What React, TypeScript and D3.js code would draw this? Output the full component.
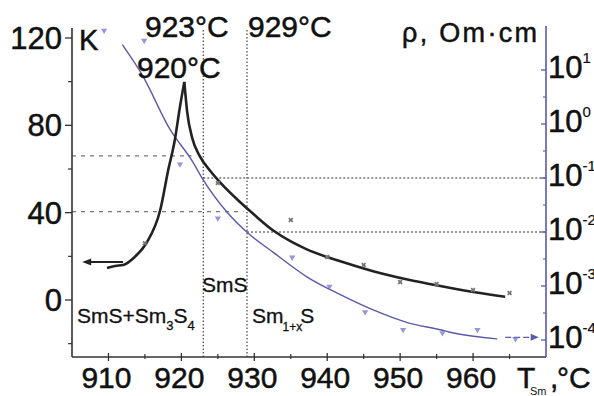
import React from "react";
import * as d3 from "d3";

// ---- data ----
const kLeftT = [909.8, 910.9, 912.0, 913.6, 915.2, 917.1, 918.2, 919.1, 919.8, 920.4];
const kLeftV = [14.7, 15.6, 16.0, 19.7, 26.1, 41.2, 59.6, 73.3, 88.4, 99.9];
const kRightT = [920.4, 920.8, 921.5, 922.5, 924.0, 925.5, 928.0, 930.0, 932.6, 935.0, 937.2, 941.8, 946.3, 951.0, 955.5, 959.6, 964.4];
const kRightV = [99.9, 86, 74, 66, 59, 53.2, 45, 39, 31.8, 26.8, 23.2, 17.7, 13.2, 9.4, 6.4, 3.9, 1.5];
const kMarkT = [915, 925, 935, 940, 945, 950, 955, 960, 965];
const kMarkV = [26, 53.6, 36.6, 19.7, 16.0, 8.2, 7.3, 4.6, 3.2];

const rhoT = [911.9, 914.7, 918.4, 921.6, 922.8, 926.3, 929.4, 932.6, 937.2, 941.8, 946.3, 951.0, 955.5, 957.3, 963.3];
const rhoV = [29.5, 7.8, 0.81, 0.195, 0.102, 0.023, 0.0089, 0.0042, 0.00148, 0.00069, 0.00036, 0.00021, 0.000155, 0.000135, 0.000105];
const rhoMarkT = [909.4, 914.9, 919.8, 925, 935.2, 940.3, 945.2, 950.4, 955.8, 960.6, 965.8];
const rhoMarkV = [54, 35, 0.18, 0.018, 0.0034, 0.00098, 0.00033, 0.000155, 0.000135, 0.000155, 0.000105];

const xTicks = [910, 920, 930, 940, 950, 960];
const xMinor = [915, 925, 935, 945, 955, 965];
const kTicks = [0, 40, 80, 120];
const kMinor = [-20, 20, 60, 100];
const rhoExp = [1, 0, -1, -2, -3, -4];

const phaseT = [923, 929];
const kGuides = [66, 40.5];
const kGuideEndT = [921.4, 928.5];
const rhoGuides = [0.1, 0.01];
const kArrowT = [912, 906.4];
const kArrowV = 17.4;
const rhoArrowT = [964.4, 969];
const rhoArrowV = 0.000112;

// ---- layout ----
const W = 594, H = 396;
const L = 72, R = 546, T0 = 28, B = 357;
const FONT = "'Liberation Sans', Arial, sans-serif";
const BLUE = "#5a5aaa";
const BLUE_M = "#7373cc";
const INK = "#111";

export default function App() {
  const x = d3.scaleLinear().domain([905, 970]).range([L, R]);
  const yK = d3.scaleLinear().domain([0, 120]).range([300, 38]);
  const yR = d3.scaleLog().domain([1e-4, 10]).range([340, 70]);

  const lineK = d3.line<[number, number]>().x(d => x(d[0])).y(d => yK(d[1])).curve(d3.curveMonotoneX);
  const lineR = d3.line<[number, number]>().x(d => x(d[0])).y(d => yR(d[1])).curve(d3.curveMonotoneX);

  const leftPts = kLeftT.map((t, i) => [t, kLeftV[i]] as [number, number]);
  const rightPts = kRightT.map((t, i) => [t, kRightV[i]] as [number, number]);
  const rhoPts = rhoT.map((t, i) => [t, rhoV[i]] as [number, number]);

  const tri = d3.symbol().type(d3.symbolTriangle).size(17)() as string;
  const cross = d3.symbol().type(d3.symbolCross).size(16)() as string;

  const ka1 = x(kArrowT[0]), ka2 = x(kArrowT[1]), kay = yK(kArrowV);
  const ra1 = x(rhoArrowT[0]), ra2 = x(rhoArrowT[1]), ray = yR(rhoArrowV);

  const big = { fill: INK, stroke: INK, strokeWidth: 0.5 };

  return (
    <svg width={W} height={H} style={{ position: "absolute", left: 0, top: 0, background: "#fff" }} fontFamily={FONT}>
      <rect x={0} y={0} width={W} height={H} fill="#fff" />

      {/* guide lines */}
      {kGuides.map((v, i) => (
        <line key={"kg" + i} x1={L} x2={x(kGuideEndT[i])} y1={yK(v)} y2={yK(v)} stroke="#777" strokeWidth={1.2} strokeDasharray="4,5" />
      ))}
      {rhoGuides.map((v, i) => (
        <line key={"rg" + i} x1={x(phaseT[i])} x2={R} y1={yR(v)} y2={yR(v)} stroke="#333" strokeWidth={1.1} strokeDasharray="2,2" />
      ))}
      {phaseT.map((t, i) => (
        <line key={"pt" + i} x1={x(t)} x2={x(t)} y1={T0 + 2} y2={B} stroke="#333" strokeWidth={1.1} strokeDasharray="1.5,2" />
      ))}

      {/* resistivity curve */}
      <path d={lineR(rhoPts) as string} fill="none" stroke={BLUE} strokeWidth={1.4} />
      <line x1={ra1} x2={ra2 - 6} y1={ray} y2={ray} stroke={BLUE} strokeWidth={1.4} strokeDasharray="6,3" />
      <path d={`M${ra2},${ray} L${ra2 - 8},${ray - 3.5} L${ra2 - 8},${ray + 3.5} Z`} fill={BLUE} />
      {rhoMarkT.map((t, i) => (
        <path key={"rm" + i} d={tri} transform={`translate(${x(t)},${yR(rhoMarkV[i])}) rotate(180)`} fill={BLUE_M} opacity={0.75} />
      ))}

      {/* K curve */}
      <path d={lineK(leftPts) as string} fill="none" stroke="#222" strokeWidth={2.6} />
      <path d={lineK(rightPts) as string} fill="none" stroke="#222" strokeWidth={2.6} />
      <line x1={ka1} x2={ka2 + 6} y1={kay} y2={kay} stroke="#222" strokeWidth={2.2} />
      <path d={`M${ka2},${kay} L${ka2 + 9},${kay - 3.5} L${ka2 + 9},${kay + 3.5} Z`} fill="#222" />
      {kMarkT.map((t, i) => (
        <path key={"km" + i} d={cross} transform={`translate(${x(t)},${yK(kMarkV[i])}) rotate(45)`} fill="#777" />
      ))}

      {/* axes */}
      <line x1={L} x2={L} y1={T0} y2={B} stroke="#333" strokeWidth={1.6} />
      <line x1={L} x2={R} y1={B} y2={B} stroke="#333" strokeWidth={1.6} />
      <line x1={R} x2={R} y1={T0 - 2} y2={B} stroke={BLUE} strokeWidth={1.6} />

      {kTicks.map(v => (
        <g key={"kt" + v}>
          <line x1={L - 7} x2={L} y1={yK(v)} y2={yK(v)} stroke="#333" strokeWidth={1.3} />
          <text x={62} y={yK(v) + 11} textAnchor="end" fontSize={31} {...big}>{v}</text>
        </g>
      ))}
      {kMinor.map(v => (
        <line key={"km2" + v} x1={L - 4} x2={L} y1={yK(v)} y2={yK(v)} stroke="#333" strokeWidth={1.2} />
      ))}

      {xTicks.map(v => (
        <g key={"xt" + v}>
          <line x1={x(v)} x2={x(v)} y1={B - 4} y2={B + 4} stroke="#333" strokeWidth={1.3} />
          <text x={x(v) - 2} y={388} textAnchor="middle" fontSize={30} {...big}>{v}</text>
        </g>
      ))}
      {xMinor.map(v => (
        <line key={"xm" + v} x1={x(v)} x2={x(v)} y1={B - 3} y2={B + 2} stroke="#333" strokeWidth={1.2} />
      ))}

      {rhoExp.map(e => (
        <g key={"re" + e}>
          <line x1={R - 5} x2={R} y1={yR(Math.pow(10, e))} y2={yR(Math.pow(10, e))} stroke={BLUE} strokeWidth={1.3} />
          <text x={548} y={yR(Math.pow(10, e)) + 8} fontSize={31} {...big}>
            10<tspan fontSize={15} dy={-15} strokeWidth={0.2}>{e}</tspan>
          </text>
        </g>
      ))}
      {rhoExp.slice(1).map(e => (
        <line key={"rh" + e} x1={R - 3} x2={R} y1={yR(Math.pow(10, e + 0.5))} y2={yR(Math.pow(10, e + 0.5))} stroke={BLUE} strokeWidth={1.1} />
      ))}

      {/* titles and labels */}
      <text x={79} y={50} fontSize={29} {...big}>K</text>
      <text x={402} y={42} fontSize={27} textLength={135} lengthAdjust="spacing" {...big}>ρ, Om·cm</text>
      <text x={145} y={37} fontSize={30} {...big}>923°C</text>
      <text x={248} y={37} fontSize={30} {...big}>929°C</text>
      <text x={137} y={78} fontSize={30} {...big}>920°C</text>

      <text x={77} y={323} fontSize={21} fill={INK} stroke={INK} strokeWidth={0.3}>
        SmS+Sm<tspan fontSize={13} dy={7}>3</tspan><tspan dy={-7}>S</tspan><tspan fontSize={13} dy={7}>4</tspan>
      </text>
      <text x={202} y={292} fontSize={21} fill={INK} stroke={INK} strokeWidth={0.3}>SmS</text>
      <text x={252} y={323} fontSize={21} fill={INK} stroke={INK} strokeWidth={0.3}>
        Sm<tspan fontSize={12} dy={8} dx={-1}>1+x</tspan><tspan dy={-8} dx={-2}>S</tspan>
      </text>

      <text x={517} y={388} fontSize={30} {...big}>T</text>
      <text x={530} y={395} fontSize={11} fill={INK}>Sm</text>
      <text x={550} y={388} fontSize={30} {...big}>,</text>
      <text x={557} y={388} fontSize={30} {...big}>°C</text>
    </svg>
  );
}
